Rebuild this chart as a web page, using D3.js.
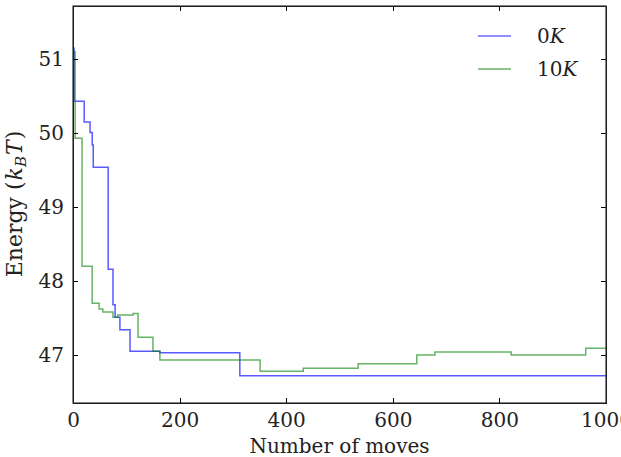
<!DOCTYPE html>
<html lang="en">
<head>
  <meta charset="UTF-8">
  <title>Energy vs moves</title>
  <style>
    body { margin: 0; background: #fff; }
    svg { display: block; }
    .axis path, .axis line { fill: none; stroke: #000; shape-rendering: crispEdges; }
    .axis text { font: 20px "DejaVu Serif", serif; fill: #222; }
    .lbl { font: 20px "DejaVu Serif", serif; fill: #222; }
  </style>
</head>
<body>
<div class="chart"></div>
<script src="https://cdn.jsdelivr.net/npm/d3@7"></script>
<script>
  // step data: [moves, energy]
  let moves0K = [0, 2, 21, 32, 36, 38, 66, 75, 79, 88, 107, 163, 313, 1000]
  let energy0K = [51.15, 50.43, 50.15, 50.01, 49.84, 49.54, 48.16, 47.68, 47.51, 47.34, 47.05, 47.03, 46.72, 46.72]
  let moves10K = [0, 4, 17, 36, 49, 56, 75, 84, 113, 122, 150, 163, 351, 432, 535, 645, 679, 822, 962, 1000]
  let energy10K = [51.1, 49.93, 48.2, 47.7, 47.62, 47.58, 47.51, 47.54, 47.56, 47.24, 47.05, 46.93, 46.78, 46.82, 46.88, 47.0, 47.04, 47.0, 47.09, 47.09]
  let seriesNames = ['0K', '10K']
  let seriesColors = ['#0000ff', '#008000']
  let xTicks = [0, 200, 400, 600, 800, 1000]
  let yTicks = [47, 48, 49, 50, 51]

  let width = 621
  let height = 457
  let paddingL = 73
  let paddingR = 15
  let paddingT = 6
  let paddingB = 54
  let plotW = width - paddingL - paddingR
  let plotH = height - paddingT - paddingB

  let svg = d3.select('.chart').append('svg').attr('width', width).attr('height', height)
  let xScale = d3.scaleLinear().domain([0, 1000]).range([0, plotW])
  let yScale = d3.scaleLinear().domain([46.35, 51.72]).range([plotH, 0])

  let g = svg.append('g').attr('transform', 'translate(' + paddingL + ',' + paddingT + ')')

  // lines
  let series = [
    d3.zip(moves0K, energy0K),
    d3.zip(moves10K, energy10K)
  ]
  let line = d3.line()
    .x(d => xScale(d[0]))
    .y(d => yScale(d[1]))
    .curve(d3.curveStepAfter)

  g.append('defs').append('clipPath').attr('id', 'clip')
    .append('rect').attr('width', plotW).attr('height', plotH)

  series.forEach((s, i) => {
    g.append('path')
      .datum(s)
      .attr('clip-path', 'url(#clip)')
      .attr('d', line)
      .attr('fill', 'none')
      .attr('stroke', seriesColors[i])
      .attr('stroke-opacity', i === 0 ? 0.65 : 0.6)
      .attr('stroke-width', 1.5)
  })

  // axes, ticks inward on all sides
  let xAxis = d3.axisBottom(xScale).tickValues(xTicks).tickFormat(d3.format('d'))
    .tickSizeInner(-5).tickSizeOuter(0).tickPadding(10)
  let yAxis = d3.axisLeft(yScale).tickValues(yTicks).tickFormat(d3.format('d'))
    .tickSizeInner(-5).tickSizeOuter(0).tickPadding(9)
  let xTop = d3.axisTop(xScale).tickValues(xTicks).tickSizeInner(-5).tickSizeOuter(0).tickFormat('')
  let yRight = d3.axisRight(yScale).tickValues(yTicks).tickSizeInner(-5).tickSizeOuter(0).tickFormat('')

  g.append('g').attr('class', 'axis').attr('transform', 'translate(0,' + plotH + ')').call(xAxis)
  g.append('g').attr('class', 'axis').call(yAxis)
  g.append('g').attr('class', 'axis').call(xTop)
  g.append('g').attr('class', 'axis').attr('transform', 'translate(' + plotW + ',0)').call(yRight)
  g.selectAll('.axis line').attr('stroke', '#333')

  g.append('rect').attr('width', plotW).attr('height', plotH)
    .attr('fill', 'none').attr('stroke', '#333').attr('stroke-width', 1.2)

  // axis labels
  svg.append('text').attr('class', 'lbl')
    .attr('x', paddingL + plotW / 2).attr('y', 453)
    .attr('text-anchor', 'middle')
    .text('Number of moves')

  let yl = svg.append('text').attr('class', 'lbl')
    .attr('transform', 'translate(22,204) rotate(-90)')
    .attr('text-anchor', 'middle')
    .style('font-size', '22px')
  yl.append('tspan').text('Energy (')
  yl.append('tspan').attr('font-style', 'italic').attr('dx', 1).text('k')
  yl.append('tspan').attr('font-style', 'italic').attr('font-size', '15px').attr('dy', 4).text('B')
  yl.append('tspan').attr('font-style', 'italic').attr('dy', -4).attr('dx', 1).text('T')
  yl.append('tspan').attr('dx', 1).text(')')

  // legend
  let legend = svg.append('g').attr('transform', 'translate(478,36)')
  seriesNames.forEach((name, i) => {
    let row = legend.append('g').attr('transform', 'translate(0,' + i * 33 + ')')
    row.append('line').attr('x1', 0).attr('x2', 33)
      .attr('stroke', seriesColors[i]).attr('stroke-opacity', 0.6).attr('stroke-width', 1.5)
    let t = row.append('text').attr('class', 'lbl').attr('x', 59).attr('y', 7)
    t.append('tspan').text(name.slice(0, -1))
    t.append('tspan').attr('font-style', 'italic').text(name.slice(-1))
  })
</script>
</body>
</html>
